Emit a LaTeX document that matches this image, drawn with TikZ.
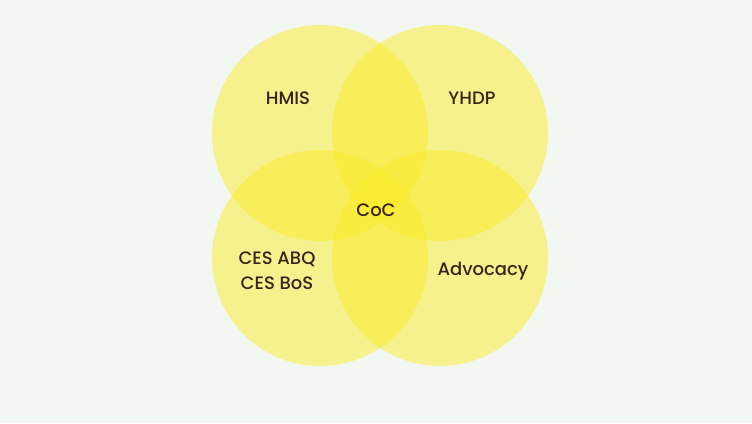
\documentclass[tikz,border=0pt]{standalone}
\usepackage{fontspec}
\setmainfont{Poppins}
\newfontfamily\tagfont{Poppins Medium}
\definecolor{bgcol}{RGB}{242,247,242}
\definecolor{blobcol}{RGB}{250,236,40}
\definecolor{labelcol}{RGB}{58,36,26}
\begin{document}
\begin{tikzpicture}[x=1pt,y=-1pt,
		bubble/.style={circle,fill=blobcol,fill opacity=0.5,draw=none,minimum size=216pt,inner sep=0pt},
		tag/.style={text=labelcol,font=\tagfont\fontsize{18}{25}\selectfont,align=center}
		]
		\fill[bgcol] (0,0) rectangle (752,423);
		\useasboundingbox (0,0) rectangle (752,423);
		
		\node[bubble](B1) at (320,133){};
		\node[bubble](B2) at (440,133){};
		\node[bubble](B3) at (320,258){};
		\node[bubble](B4) at (440,258){};
		
		\node[tag](HMIS) at (288,98){HMIS};
		\node[tag](YHDP) at (472,98){YHDP};
		\node[tag](CoC) at (376,210){CoC};
		\node[tag](CES) at (277,271){CES ABQ\\CES BoS};
		\node[tag](Adv) at (483,271){Advocacy};
	\end{tikzpicture}
\end{document}
